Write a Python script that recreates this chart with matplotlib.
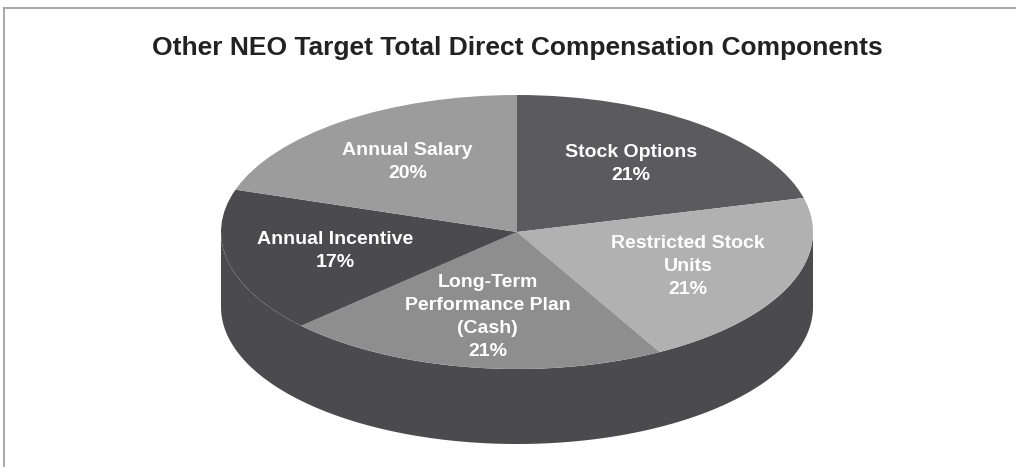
import numpy as np
import matplotlib
matplotlib.use("Agg")
import matplotlib.pyplot as plt
from matplotlib.lines import Line2D

# chart data
labels = ['Stock Options', 'Restricted Stock\nUnits', 'Long-Term\nPerformance Plan\n(Cash)',
          'Annual Incentive', 'Annual Salary']
values = [21, 21, 21, 17, 20]
colors = ['#5b5b5d', '#b1b1b1', '#8e8e8e', '#4b4b4d', '#9c9c9c']
side_color = '#4b4b4d'
title = 'Other NEO Target Total Direct Compensation Components'

plt.rcParams['font.family'] = ['Liberation Sans', 'DejaVu Sans']

W, H = 1016, 467
fig = plt.figure(figsize=(W / 100, H / 100), dpi=100)
fig.patch.set_facecolor('white')
ax = fig.add_axes([0, 0, 1, 1])

# pixel layout of the tilted pie (centre, half width, half height, depth)
cx, cy, rx, ry, depth = 517, 232, 296, 137, 75

# side wall of the cylinder (front half), drawn under the top face
d = depth / ry
t = np.linspace(np.pi, 2 * np.pi, 200)
xs = np.concatenate([np.cos(t), np.cos(t[::-1])])
ys = np.concatenate([np.sin(t), np.sin(t[::-1]) - d])
ax.fill(xs, ys, color=side_color, lw=0, zorder=1)

wedges, texts = ax.pie(values, labels=labels, colors=colors, startangle=90,
                       counterclock=False, labeldistance=0.63, radius=1,
                       wedgeprops=dict(linewidth=0),
                       textprops=dict(color='white', fontsize=14, fontweight='bold'))
for w in wedges:
    w.set_zorder(2)
for txt, v in zip(texts, values):
    txt.set_text(txt.get_text() + '\n%d%%' % v)
    txt.set_ha('center')
    txt.set_va('center')
    txt.set_multialignment('center')
    txt.set_linespacing(1.45)
    txt.set_zorder(3)

# map the unit pie onto the flattened ellipse
ax.set_aspect('auto')
ax.set_xlim(-cx / rx, (W - cx) / rx)
ax.set_ylim(-(H - cy) / ry, cy / ry)
ax.axis('off')

fig.text(cx / W, 1 - 48 / H, title, ha='center', va='center',
         fontsize=19, fontweight='bold', color='#222222')

# thin grey frame along top and left
fig.add_artist(Line2D([4 / W, 1], [1 - 8 / H, 1 - 8 / H], color='#9a9a9a', lw=1.2))
fig.add_artist(Line2D([4 / W, 4 / W], [0, 1 - 8 / H], color='#9a9a9a', lw=1.2))

fig.savefig('out.png', dpi=100, facecolor='white')
